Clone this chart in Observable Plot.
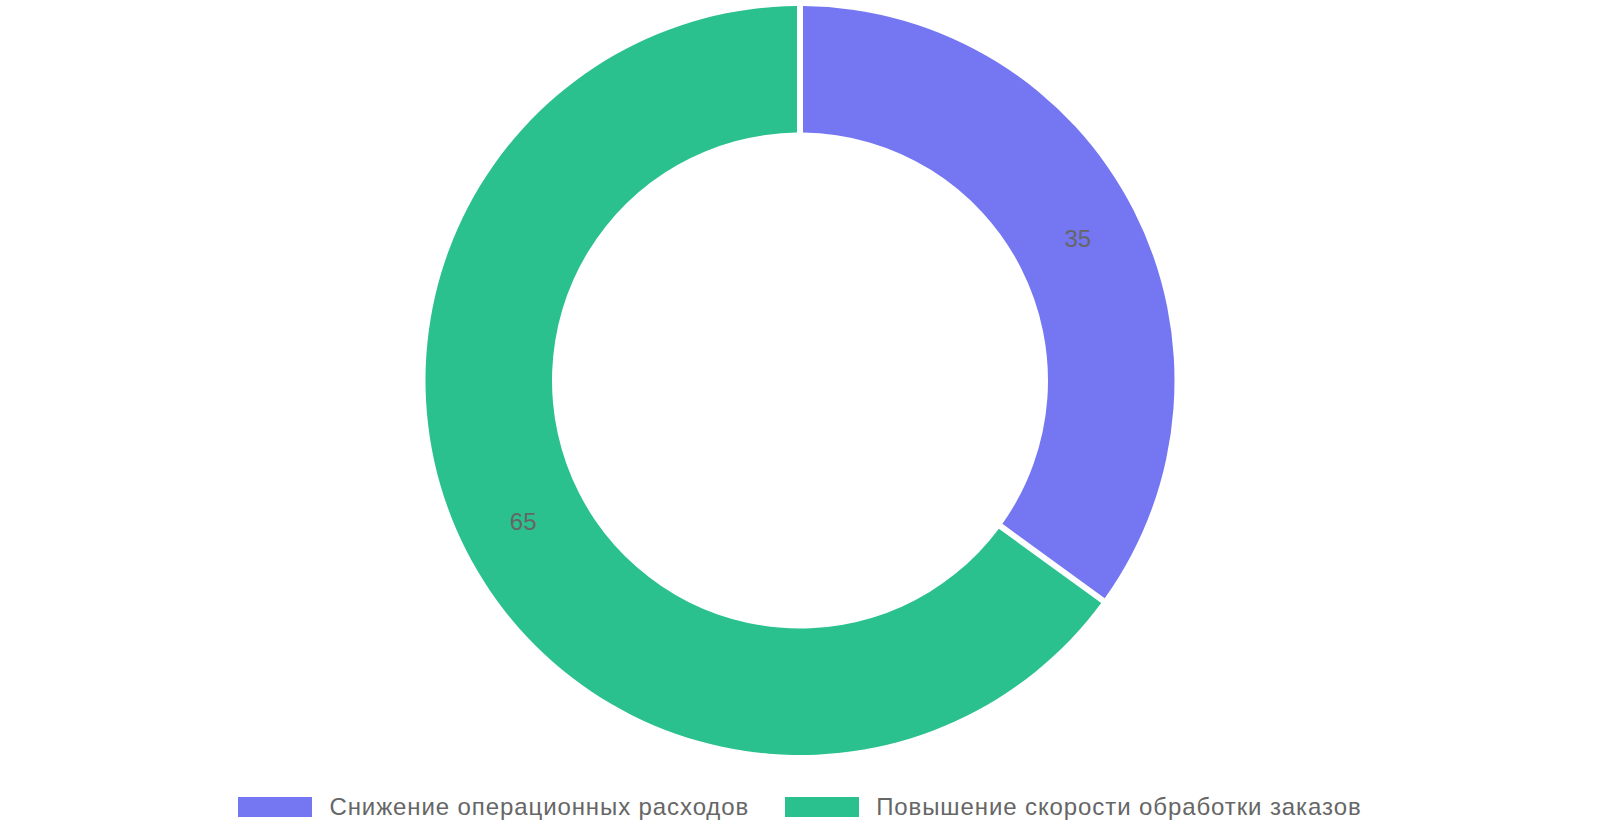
<!DOCTYPE html>
<html>
<head>
<meta charset="utf-8">
<script src="https://cdn.jsdelivr.net/npm/d3@7"></script>
<script src="https://cdn.jsdelivr.net/npm/@observablehq/plot@0.6"></script>
<style>
  html, body { margin: 0; padding: 0; background: #fff; }
  body { width: 1600px; font-family: "Liberation Sans", Arial, sans-serif; }
  #legend { display: flex; justify-content: center; align-items: center; height: 54px; gap: 0; }
  .item { display: flex; align-items: center; font-size: 24px; color: #666; letter-spacing: 0.9px; }
  .item + .item { margin-left: 36px; }
  .sw { width: 74px; height: 20px; margin-right: 17px; }
</style>
</head>
<body>
<div id="chart"></div>
<div id="legend"></div>
<script>
const categories = ["Снижение операционных расходов", "Повышение скорости обработки заказов"];
const values = [35, 65];
const colors = ["#7476F2", "#2AC18F"];

const data = categories.map((c, i) => ({category: c, value: values[i]}));

const W = 1600, H = 780;
const outerR = 374.5, innerR = 248, gap = 6;

const pie = d3.pie().value(d => d.value).sort(null);
const arcs = pie(data);
const arcGen = d3.arc().innerRadius(innerR).outerRadius(outerR)
  .padRadius(outerR).padAngle(gap / outerR);
const labelArc = d3.arc().innerRadius(innerR).outerRadius(outerR);

const colorScale = Plot.scale({color: {type: "ordinal", domain: categories, range: colors}});

const labels = arcs.map(a => {
  const [x, y] = labelArc.centroid(a);
  return {x, y, text: String(a.data.value)};
});

const donut = (index, scales, values_, dimensions, context) => {
  const cx = scales.x(0), cy = scales.y(0);
  const g = d3.create("svg:g").attr("transform", `translate(${cx},${cy})`);
  g.selectAll("path").data(arcs).join("path")
    .attr("d", arcGen)
    .attr("fill", d => colorScale.apply(d.data.category));
  return g.node();
};

const plot = Plot.plot({
  width: W,
  height: H,
  margin: 0,
  x: {domain: [-800, 800], range: [0, W], axis: null},
  y: {domain: [-380.5, H - 380.5], range: [0, H], axis: null},
  style: {fontFamily: "Liberation Sans, Arial, sans-serif", background: "#fff"},
  marks: [
    donut,
    Plot.text(labels, {x: "x", y: "y", text: "text", fontSize: 24, fill: "#666", textAnchor: "middle", lineAnchor: "middle"})
  ]
});
document.getElementById("chart").appendChild(plot);

const legend = d3.select("#legend");
categories.forEach((c, i) => {
  const it = legend.append("div").attr("class", "item");
  it.append("div").attr("class", "sw").style("background", colorScale.apply(c));
  it.append("span").text(c);
});
</script>
</body>
</html>
